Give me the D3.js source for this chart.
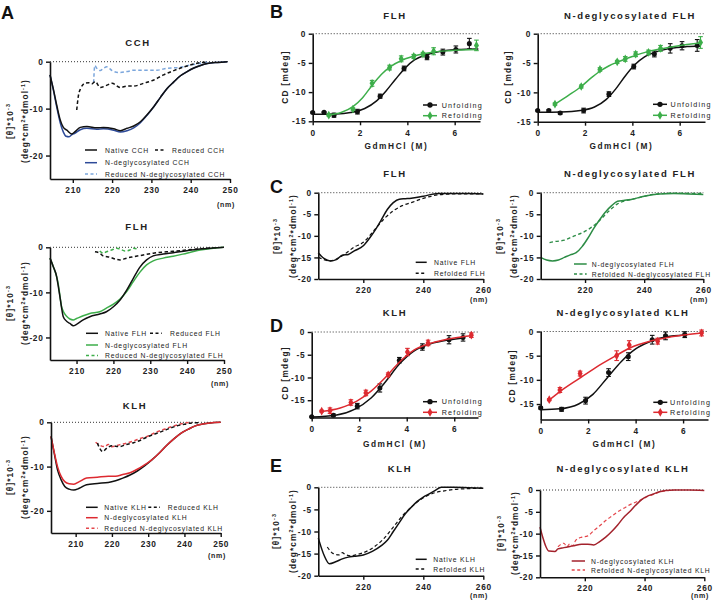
<!DOCTYPE html>
<html><head><meta charset="utf-8">
<script src="https://cdn.jsdelivr.net/npm/d3@7"></script>
<style>body{margin:0;background:#fff} svg{display:block} text{font-family:"Liberation Sans",Arial,sans-serif}</style>
</head><body><svg id="c" width="713" height="600"></svg>
<script>
// ---------------- DATA ----------------
// Panel A : CD spectra [wavelength nm, theta*10^-3]
const cchNative = [[204.2,-2.8],[205.1,-6],[206,-9.6],[206.8,-12.4],[207.6,-14],[208.5,-14.6],[209.7,-15.4],[210.6,-14.9],[211.9,-14],[213.6,-13.8],[216.1,-14.1],[217.8,-14],[220.4,-14.3],[222.1,-14.7],[223.8,-14.2],[225.5,-13.7],[227.2,-12.8],[228.9,-11.3],[230.6,-9.6],[232.3,-7.6],[234,-5.7],[235.7,-4.3],[237.4,-3.0],[239.1,-2.1],[240.8,-1.35],[242.5,-0.8],[244.2,-0.4],[246.8,-0.15],[249.3,0]];
const cchDeglyc = [[204.2,-2.8],[205.1,-6.2],[206,-10],[206.8,-13],[207.6,-15],[208.3,-15.9],[209,-16],[209.7,-15.6],[210.6,-15.2],[211.9,-14.5],[213.6,-14.2],[216.1,-14.4],[217.8,-14.3],[220.4,-14.6],[222.1,-15],[223.8,-14.7],[225.5,-14.1],[227.2,-13],[228.9,-11.4],[230.6,-9.6],[232.3,-7.6],[234,-5.7],[235.7,-4.3],[237.4,-3.0],[239.1,-2.1],[240.8,-1.35],[242.5,-0.8],[244.2,-0.4],[246.8,-0.15],[249.3,0]];
const cchReduced = [[211,-10.3],[211.4,-7.4],[212,-5.7],[213.1,-4.6],[214,-4.5],[214.8,-4.75],[215.7,-4.25],[217,-5.5],[218.7,-5.0],[220,-4.6],[222.1,-5.5],[223.8,-5.2],[225.5,-5.2],[228,-4.6],[230.6,-3.9],[233.1,-2.8],[235.7,-1.9],[238.3,-1.1],[240.8,-0.5],[242.5,-0.2],[244.2,-0.1]];
const cchReducedDeglyc = [[215.3,-4.5],[215.6,-0.8],[216.1,-1.4],[217,-1.9],[217.8,-1.4],[218.7,-1.1],[220,-1.9],[221.7,-2.3],[223.8,-2.1],[225.5,-1.8],[228,-1.8],[231.4,-1.8],[234,-1.4],[237.4,-1.2],[240,-0.7],[242.5,-0.35],[244.2,-0.1]];

const flhNative = [[202.8,-2.4],[203.7,-4.3],[204.6,-6.5],[205,-8.4],[205.5,-11],[205.9,-13.2],[206.4,-15.4],[207.3,-16.4],[208.2,-16.9],[209.1,-17.4],[210,-17.1],[211.8,-16.1],[213.6,-15.4],[216.3,-14.8],[218.1,-14.3],[220,-13.2],[221.8,-11.7],[223.6,-9.5],[225.4,-6.9],[227.2,-4.4],[229,-2.8],[230.8,-1.9],[233.5,-1.5],[236.2,-1.2],[239.9,-0.74],[243.5,-0.37],[247.1,-0.15],[250,0]];
const flhDeglyc = [[202.8,-2.4],[203.7,-4.3],[204.6,-6.5],[205,-8],[205.5,-10.8],[205.9,-13],[206.4,-14.2],[207.3,-15.3],[208.2,-15.9],[209.1,-16.1],[210,-15.8],[211.8,-15.2],[213.6,-14.7],[216.3,-14.3],[218.1,-13.5],[220,-12.6],[221.8,-11.5],[223.6,-9.8],[225.4,-7.6],[227.2,-5.5],[229,-3.9],[230.8,-3.0],[233.5,-2.4],[236.2,-2.0],[239.9,-1.3],[243.5,-0.6],[247.1,-0.2],[250,0]];
const flhReduced = [[215,-1.0],[216.3,-1.3],[217.2,-1.9],[219,-2.2],[220.9,-2.7],[221.8,-2.8],[223.6,-2.4],[225.4,-2.1],[228.1,-1.7],[230.8,-1.3],[234.4,-1.0],[238,-0.74],[241.7,-0.44],[245.3,-0.2],[248,-0.07]];
const flhReducedDeglyc = [[216.3,-0.8],[217.2,-1.3],[218.1,-1.0],[219.5,-0.6],[220.9,-0.2],[221.8,-0.4],[223.1,-0.8],[224.5,-0.6],[225.4,-0.2],[226.7,-0.4]];

const klhNative = [[203.2,-3.2],[204.1,-7],[205,-10.75],[206,-13],[207,-14.5],[208.2,-15.1],[209.5,-15.3],[211,-14.9],[213,-14.1],[216,-13.8],[219,-13.6],[221,-13.2],[223,-12.6],[225,-11.9],[227,-11],[229,-9.85],[231,-8.5],[233,-7],[235,-5.3],[237,-3.8],[239,-2.5],[241,-1.6],[243,-0.8],[245,-0.4],[247,-0.15],[250,0]];
const klhDeglyc = [[203.2,-3.2],[204.1,-6.8],[205,-10],[206,-12.2],[207,-13.4],[208.2,-13.9],[209.5,-14],[211,-13.4],[213,-12.6],[216,-12.4],[219,-12.2],[221,-12.2],[223,-11.8],[225,-11.4],[227,-10.6],[229,-9.6],[231,-8.5],[233,-7.0],[235,-5.3],[237,-3.8],[239,-2.5],[241,-1.6],[243,-0.8],[245,-0.4],[247,-0.15],[250,0]];
const klhReduced = [[216,-4.7],[216.8,-6.1],[217.5,-6.6],[218.5,-5.9],[220,-5.3],[222,-5.5],[224,-5.0],[226,-4.6],[228,-4.0],[230,-3.2],[232,-2.6],[234,-2.0],[236,-1.35],[238,-0.8],[240,-0.45],[242,-0.15],[244,-0.1]];
const klhReducedDeglyc = [[215.5,-4.5],[216.5,-5.1],[218,-5.5],[219,-5.0],[220,-5.5],[222,-5.1],[224,-4.7],[226,-4.2],[228,-3.6],[230,-3.1],[232,-2.3],[234,-1.7],[236,-1.1],[238,-0.6],[240,-0.2],[242,0]];

// Panels B / D : GdmHCl titrations (M, mdeg, error)
const bFlhUnfoldX = [0,0.48,0.9,1.89,2.85,3.86,4.83,5.5,6.05,6.62];
const bFlhUnfoldY = [-13.5,-13.45,-13.95,-13.35,-10.7,-5.95,-4.0,-3.15,-2.7,-1.7];
const bFlhUnfoldE = [0.1,0.1,0.35,0.4,0.35,0.4,0.45,0.5,0.6,0.9];
const bFlhRefoldX = [0.68,1.7,2.51,3.25,3.74,4.27,4.66,5.11,6.92];
const bFlhRefoldY = [-13.95,-12.9,-8.5,-5.8,-4.3,-3.9,-3.5,-3.0,-2.0];
const bFlhRefoldE = [0.15,0.2,0.5,0.4,0.5,0.35,0.3,0.6,0.9];
const bFlhUnfoldFit = [[0,-13.8],[1,-13.75],[1.6,-13.5],[2.2,-12.8],[2.7,-11.5],[3.1,-9.8],[3.5,-7.8],[3.9,-5.9],[4.3,-4.5],[4.8,-3.6],[5.4,-3.0],[6.1,-2.7],[7,-2.6]];
const bFlhRefoldFit = [[0.68,-13.9],[1.2,-13.5],[1.7,-12.5],[2.1,-11],[2.5,-8.9],[2.9,-7],[3.3,-5.6],[3.8,-4.5],[4.4,-3.7],[5,-3.2],[5.8,-2.9],[6.92,-2.7]];

const bDgUnfoldX = [0,0.47,0.95,1.94,3.01,4.06,4.93,5.6,6.1,6.74];
const bDgUnfoldY = [-13.1,-13.1,-13.5,-13.1,-10.3,-5.6,-3.45,-2.5,-2.05,-2.0];
const bDgUnfoldE = [0.1,0.15,0.2,0.4,0.4,0.4,0.5,0.8,0.7,1.0];
const bDgRefoldX = [0.73,1.84,2.63,3.36,3.7,4.14,4.68,5.19,6.88];
const bDgRefoldY = [-12.0,-9.0,-6.1,-4.8,-4.3,-3.5,-3.2,-2.5,-1.5];
const bDgRefoldE = [0.2,0.25,0.3,0.25,0.4,0.4,0.4,0.5,1.0];
const bDgUnfoldFit = [[0,-13.4],[1,-13.35],[1.8,-13.1],[2.4,-12.5],[2.9,-11.2],[3.3,-9.4],[3.7,-7.2],[4.1,-5.3],[4.5,-4],[5,-3.1],[5.6,-2.5],[6.3,-2.2],[6.9,-2.1]];
const bDgRefoldFit = [[0.73,-12.0],[1.3,-10.5],[1.84,-9.0],[2.3,-7.4],[2.63,-6.4],[3.0,-5.5],[3.4,-4.8],[4.0,-3.9],[4.6,-3.1],[5.2,-2.6],[5.9,-2.1],[6.88,-1.6]];

const dKlhUnfoldX = [0,0.91,1.92,2.87,3.69,4.66,5.78,6.37];
const dKlhUnfoldY = [-18.65,-18.3,-16.3,-12.3,-6.2,-3.3,-1.7,-1.2];
const dKlhUnfoldE = [0.1,0.3,0.6,0.9,0.6,0.7,0.9,0.8];
const dKlhRefoldX = [0.42,0.77,1.65,2.28,3.22,4.03,4.9,6.72];
const dKlhRefoldY = [-17.4,-17.3,-15.5,-13.4,-9.4,-4.4,-2.4,-0.7];
const dKlhRefoldE = [0.2,0.6,0.6,0.6,0.4,0.8,0.6,0.5];
const dKlhUnfoldFit = [[0,-18.7],[1,-18.3],[1.8,-17],[2.5,-14.5],[3.1,-11],[3.7,-7],[4.3,-4.2],[5,-2.6],[5.8,-1.7],[6.4,-1.3]];
const dKlhRefoldFit = [[0.4,-17.5],[1.2,-16.7],[1.9,-15.2],[2.5,-13],[3.1,-10],[3.7,-6.6],[4.3,-4.0],[5,-2.5],[6,-1.3],[6.72,-0.8]];

const dDgUnfoldX = [0,0.88,1.89,2.86,3.69,4.7,5.26,6.07];
const dDgUnfoldY = [-15.8,-16.1,-14.3,-8.5,-5.2,-1.7,-0.9,-0.65];
const dDgUnfoldE = [0.2,0.4,0.7,0.8,0.8,0.9,0.8,0.6];
const dDgRefoldX = [0.36,0.81,1.66,3.2,3.73,4.93,6.78];
const dDgRefoldY = [-14.1,-12.1,-8.7,-5.0,-2.8,-2.0,-0.3];
const dDgRefoldE = [0.2,0.5,0.5,1.0,0.9,0.6,0.6];
const dDgUnfoldFit = [[0,-16.2],[0.8,-16],[1.6,-15],[2.2,-13],[2.8,-9.6],[3.4,-6.2],[4,-3.6],[4.7,-1.9],[5.3,-1.1],[6.07,-0.7]];
const dDgRefoldFit = [[0.36,-14.2],[0.85,-12.3],[1.6,-9.8],[2.3,-7.5],[3.1,-5.2],[3.8,-3.3],[4.6,-2.0],[5.5,-1.1],[6.78,-0.3]];

// Panels C / E : native vs refolded spectra
const cFlhNative = [[205,-14],[207,-15.3],[209,-15.8],[211,-15.5],[213,-14.5],[215,-14.3],[217,-13.5],[220,-12.3],[222,-10.6],[224,-8.6],[226,-6.3],[228,-3.9],[230,-2.3],[232,-1.5],[234,-1.4],[236,-1.3],[240,-0.8],[245,-0.2],[250,-0.2],[255,-0.2],[260,-0.3]];
const cFlhRefolded = [[205,-15],[209,-15.8],[213,-14.6],[217,-12.6],[220,-11.5],[224,-8.4],[227,-6.0],[230,-4.2],[233,-3.0],[236,-2.3],[240,-1.3],[245,-0.5],[250,-0.3],[260,-0.3]];
const cDgNative = [[205,-15],[207,-15.6],[209,-15.8],[211,-15.6],[213,-15],[215,-14.4],[217,-13.9],[219,-12.5],[221,-10.5],[223,-8.2],[225,-6.2],[227,-4.4],[229,-3.0],[231,-2.0],[233,-1.8],[236,-1.5],[240,-0.8],[245,-0.3],[250,-0.2],[255,-0.3],[260,-0.4]];
const cDgRefolded = [[208,-11.6],[210,-11.3],[213,-11],[216,-10.1],[219,-9.3],[222,-8.1],[225,-6.4],[228,-4.3],[231,-2.6],[234,-1.8],[238,-1.2],[242,-0.5],[246,-0.2],[250,-0.1],[260,-0.2]];
const eKlhNative = [[205,-11.5],[207,-15.5],[208.7,-17.3],[211,-16.8],[213,-16.2],[215,-15.8],[217,-15.6],[220,-15.3],[223,-14.5],[226,-13.2],[228,-12.0],[230,-10.0],[232,-8.0],[234,-6.0],[236,-4.5],[238,-3.2],[240,-2.2],[242,-1.5],[244,-0.7],[246,0],[250,0],[255,-0.1],[260,-0.2]];
const eKlhRefolded = [[208,-13.5],[210,-15.0],[212,-15.3],[213,-14.8],[214,-15.2],[216,-15.5],[218,-15.2],[220,-14.8],[224,-13.3],[227,-11.5],[230,-9.0],[233,-6.5],[236,-4.5],[239,-2.8],[241,-2.0],[244,-1.2],[247,-0.8],[250,-0.5],[255,-0.3],[260,-0.2]];
const eDgNative = [[205,-8.5],[206,-11],[207,-13],[208,-14],[210,-14.1],[211,-13.5],[213,-13.2],[216,-12.8],[219,-12.4],[221,-12.4],[223,-12.6],[225,-11.8],[227,-10.8],[229,-9.5],[231,-8.0],[233,-6.3],[235,-5.0],[237,-3.5],[239,-2.2],[241,-1.4],[243,-0.9],[245,-0.4],[247,-0.1],[250,0],[255,0],[260,-0.1]];
const eDgRefolded = [[211,-13],[213,-12.2],[214,-13.0],[215,-12.3],[216,-12.8],[217,-11.5],[219,-10.8],[221,-10.5],[223,-9.3],[225,-8.2],[227,-7.0],[229,-6.0],[231,-5.0],[233,-4.2],[235,-3.4],[237,-2.8],[239,-2.2],[241,-1.5],[243,-1.0],[245,-0.5],[247,-0.2],[250,0]];

// tick labels
const aXTicks = [210,220,230,240,250];
const aYTicks = [0,-10,-20];
const ceXTicks = [220,240,260];
const ceYTicks = [0,-5,-10,-15,-20];
const bdXTicks = [0,2,4,6];
const bdYTicks = [0,-5,-10,-15];

// ---------------- DRAWING ----------------
const FONT = '"Liberation Sans", Arial, sans-serif';
const svg = d3.select('#c');
const C = {black:'#111', blue:'#2d4a98', lblue:'#7ba6dc', green:'#3dae4a', dgreen:'#2c8c45', red:'#dd2a30', dred:'#a3222c', lred:'#e4464b'};
const fmtInt = d => d===0 ? '0' : (d<0 ? '-' + Math.abs(d) : String(d));

function styleAxis(g){
  g.attr('font-family', FONT).attr('font-size', 8.3).attr('font-weight','bold');
  g.select('.domain').attr('stroke', C.black).attr('stroke-width', 1.6);
  g.selectAll('.tick line').attr('stroke', C.black).attr('stroke-width', 1.4);
  g.selectAll('.tick text').attr('fill','#222').attr('letter-spacing', 0.7);
}
function txt(x, y, s, o={}){
  return svg.append('text').attr('x',x).attr('y',y).text(s)
    .attr('font-size', o.size||7).attr('font-weight', o.bold?'bold':'normal')
    .attr('letter-spacing', o.ls==null?0.8:o.ls).attr('fill', o.fill||'#222')
    .attr('text-anchor', o.anchor||'start').style('font-family', FONT);
}
function richRot(x, y, parts, size){
  const t = svg.append('text').attr('transform',`translate(${x},${y}) rotate(-90)`)
    .attr('text-anchor','middle').attr('font-size', size).attr('font-weight','bold')
    .attr('letter-spacing', 1.1).attr('fill','#222').style('font-family', FONT);
  let prevSup = false;
  parts.forEach(p => {
    const ts = t.append('tspan').text(p[0]);
    if (p[1]) ts.attr('dy', -3.2).attr('font-size', size*0.65);
    else if (prevSup) ts.attr('dy', 3.2);
    prevSup = !!p[1];
  });
}
const thetaParts = [['[θ]*10'],['-3',true]];
const unitParts = [['(deg*cm'],['2',true],['*dmol'],['-1',true],[')']];

function zeroLine(x, y, x0, x1){
  svg.append('line').attr('x1',x(x0)).attr('x2',x(x1)).attr('y1',y(0)).attr('y2',y(0))
    .attr('stroke','#333').attr('stroke-width',1).attr('stroke-dasharray','1,2');
}

function spectra(cfg){
  const x = d3.scaleLinear().domain(cfg.xd).range(cfg.xr);
  const y = d3.scaleLinear().domain(cfg.yd).range(cfg.yr);
  zeroLine(x, y, cfg.xd[0], cfg.xd[1]);
  const line = d3.line().x(d=>x(d[0])).y(d=>y(d[1])).curve(d3.curveMonotoneX);
  cfg.series.forEach(s => {
    svg.append('path').datum(s.data).attr('d', line).attr('fill','none')
      .attr('stroke', s.color).attr('stroke-width', s.w||1.5)
      .attr('stroke-dasharray', s.dash ? '3.5,2.5' : null).attr('stroke-linejoin','round');
  });
  const gx = svg.append('g').attr('transform',`translate(0,${cfg.yr[0]})`)
    .call(d3.axisBottom(x).tickValues(cfg.xt).tickSize(4).tickPadding(cfg.xpad||4.5).tickSizeOuter(0).tickFormat(fmtInt));
  styleAxis(gx);
  const gy = svg.append('g').attr('transform',`translate(${cfg.xr[0]},0)`)
    .call(d3.axisLeft(y).tickValues(cfg.yt).tickSize(4).tickPadding(2.5).tickSizeOuter(0).tickFormat(fmtInt));
  styleAxis(gy);
  txt(cfg.nm[0], cfg.nm[1], '(nm)', {size:7, bold:true, anchor:'middle', ls:0.7});
  txt(cfg.title[0], cfg.title[1], cfg.title[2], {size:9.5, bold:true, anchor:'middle', ls:1.6});
  richRot(cfg.yl[0], cfg.yl[2], thetaParts, 8.3);
  richRot(cfg.yl[1], cfg.yl[2], unitParts, 8.3);
  cfg.legend.forEach(l => {
    svg.append('line').attr('x1',l.x1).attr('x2',l.x2).attr('y1',l.y).attr('y2',l.y)
      .attr('stroke',l.color).attr('stroke-width',1.5).attr('stroke-dasharray', l.dash?'3,2.5':null);
    txt(l.tx, l.y+2.5, l.label, {size:6.8, ls:0.8});
  });
}

function titration(cfg){
  const x = d3.scaleLinear().domain(cfg.xd).range(cfg.xr);
  const y = d3.scaleLinear().domain(cfg.yd).range(cfg.yr);
  zeroLine(x, y, 0, cfg.xd[1]);
  const line = d3.line().x(d=>x(d[0])).y(d=>y(d[1])).curve(d3.curveMonotoneX);
  const g = svg.append('g');
  cfg.series.forEach(s => {
    g.append('path').datum(s.fit).attr('d', line).attr('fill','none')
      .attr('stroke', s.color).attr('stroke-width', 1.5);
    const pts = s.xs.map((v,i)=>({x:v, y:s.ys[i], e:s.es[i]}));
    pts.forEach(p => {
      const cx = x(p.x), y1 = y(p.y - p.e), y2 = y(p.y + p.e);
      g.append('line').attr('x1',cx).attr('x2',cx).attr('y1',y1).attr('y2',y2).attr('stroke',s.color).attr('stroke-width',1.1);
      [y1,y2].forEach(yy => g.append('line').attr('x1',cx-2.3).attr('x2',cx+2.3).attr('y1',yy).attr('y2',yy).attr('stroke',s.color).attr('stroke-width',1.1));
    });
    const sym = d3.symbol().type(s.marker==='d'?d3.symbolDiamond:d3.symbolCircle).size(s.marker==='d'?22:20);
    g.selectAll(null).data(pts).enter().append('path').attr('d', sym)
      .attr('transform', p=>`translate(${x(p.x)},${y(p.y)})`).attr('fill', s.color);
  });
  const gx = svg.append('g').attr('transform',`translate(0,${cfg.yr[0]})`)
    .call(d3.axisBottom(x).tickValues(bdXTicks).tickSize(4).tickPadding(4.5).tickSizeOuter(0).tickFormat(fmtInt));
  styleAxis(gx);
  const gy = svg.append('g').attr('transform',`translate(${cfg.xr[0]},0)`)
    .call(d3.axisLeft(y).tickValues(bdYTicks).tickSize(4).tickPadding(2.5).tickSizeOuter(0).tickFormat(fmtInt));
  styleAxis(gy);
  txt((cfg.xr[0]+cfg.xr[1])/2, cfg.xl, 'GdmHCl (M)', {size:8.3, bold:true, anchor:'middle', ls:1.6});
  txt(cfg.title[0], cfg.title[1], cfg.title[2], {size:9.5, bold:true, anchor:'middle', ls:1.6});
  svg.append('text').attr('transform',`translate(${cfg.yl[0]},${cfg.yl[1]}) rotate(-90)`)
    .attr('text-anchor','middle').attr('font-size',8.3).attr('font-weight','bold').attr('letter-spacing',1.3)
    .attr('fill','#222').style('font-family',FONT).text('CD [mdeg]');
  cfg.series.forEach((s,i) => {
    const ly = cfg.leg[1] + i*cfg.leg[3];
    svg.append('line').attr('x1',cfg.leg[0]).attr('x2',cfg.leg[0]+14).attr('y1',ly).attr('y2',ly).attr('stroke',s.color).attr('stroke-width',1.5);
    svg.append('path').attr('d', d3.symbol().type(s.marker==='d'?d3.symbolDiamond:d3.symbolCircle).size(22))
      .attr('transform',`translate(${cfg.leg[0]+7},${ly})`).attr('fill',s.color);
    txt(cfg.leg[2], ly+2.6, s.label, {size:7.2, ls:1.2});
  });
}

// ---- Panel A ----
spectra({xd:[204.2,250], xr:[50,230], yd:[-25,0], yr:[179,61.7], xt:aXTicks, yt:aYTicks,
  nm:[226,207], title:[138,45.5,'CCH'], yl:[13,28,121],
  series:[{data:cchReducedDeglyc,color:C.lblue,dash:true},{data:cchReduced,color:C.black,dash:true},
          {data:cchDeglyc,color:C.blue},{data:cchNative,color:C.black}],
  legend:[{x1:85,x2:97,y:150,tx:105,label:'Native CCH',color:C.black},
          {x1:155,x2:166,y:150,tx:172,label:'Reduced CCH',color:C.black,dash:true},
          {x1:85,x2:97,y:162.7,tx:105,label:'N-deglycosylated CCH',color:C.blue},
          {x1:85,x2:97,y:174,tx:105,label:'Reduced N-deglycosylated CCH',color:C.lblue,dash:true}]});
spectra({xd:[202.8,250], xr:[50,224], yd:[-25,0], yr:[360,247.3], xt:aXTicks, yt:aYTicks,
  nm:[220,386], title:[137,230,'FLH'], yl:[13,28,303],
  series:[{data:flhReducedDeglyc,color:C.green,dash:true},{data:flhReduced,color:C.black,dash:true},
          {data:flhDeglyc,color:C.green},{data:flhNative,color:C.black}],
  legend:[{x1:86,x2:98,y:333.3,tx:105,label:'Native FLH',color:C.black},
          {x1:150,x2:161.7,y:333.3,tx:170,label:'Reduced FLH',color:C.black,dash:true},
          {x1:86,x2:98,y:345,tx:105,label:'N-deglycosylated FLH',color:C.green},
          {x1:86,x2:98,y:355.5,tx:105,label:'Reduced N-deglycosylated FLH',color:C.green,dash:true}]});
spectra({xd:[203.2,250], xr:[51,220.7], yd:[-25,0], yr:[533,422.3], xt:aXTicks, yt:aYTicks,
  nm:[217,557.7], title:[135,408.5,'KLH'], yl:[13,28,477],
  series:[{data:klhReducedDeglyc,color:C.lred,dash:true},{data:klhReduced,color:C.black,dash:true},
          {data:klhNative,color:C.black},{data:klhDeglyc,color:C.red}],
  legend:[{x1:86,x2:97.7,y:507.3,tx:104.3,label:'Native KLH',color:C.black},
          {x1:148.3,x2:160,y:507.3,tx:167.7,label:'Reduced KLH',color:C.black,dash:true},
          {x1:86,x2:97.7,y:517.7,tx:104.3,label:'N-deglycosylated KLH',color:C.red},
          {x1:86,x2:97.7,y:528.3,tx:104.3,label:'Reduced N-deglycosylated KLH',color:C.lred,dash:true}]});

// ---- Panel B ----
titration({xd:[0,7.07], xr:[312.7,480], yd:[-15,0], yr:[121.3,33.7], xl:149, title:[395,18.5,'FLH'], yl:[288,77],
  leg:[423,105,441.7,10.7],
  series:[{xs:bFlhUnfoldX,ys:bFlhUnfoldY,es:bFlhUnfoldE,fit:bFlhUnfoldFit,color:C.black,marker:'o',label:'Unfolding'},
          {xs:bFlhRefoldX,ys:bFlhRefoldY,es:bFlhRefoldE,fit:bFlhRefoldFit,color:C.green,marker:'d',label:'Refolding'}]});
titration({xd:[0,7.07], xr:[537.7,705], yd:[-15,0], yr:[121.7,33.7], xl:149, title:[630,18.5,'N-deglycosylated FLH'], yl:[511,77],
  leg:[653,104.3,670.5,11],
  series:[{xs:bDgUnfoldX,ys:bDgUnfoldY,es:bDgUnfoldE,fit:bDgUnfoldFit,color:C.black,marker:'o',label:'Unfolding'},
          {xs:bDgRefoldX,ys:bDgRefoldY,es:bDgRefoldE,fit:bDgRefoldFit,color:C.green,marker:'d',label:'Refolding'}]});

// ---- Panel C ----
spectra({xd:[205,260], xr:[318.3,483.3], yd:[-20,0], yr:[279,192.7], xt:ceXTicks, yt:ceYTicks, xpad:4,
  nm:[479,302], title:[395,176.8,'FLH'], yl:[280,296,236],
  series:[{data:cFlhRefolded,color:C.black,dash:true,w:1.2},{data:cFlhNative,color:C.black}],
  legend:[{x1:415.7,x2:426.7,y:262.3,tx:434,label:'Native FLH',color:C.black},
          {x1:415.7,x2:426.7,y:273.3,tx:434,label:'Refolded FLH',color:C.black,dash:true}]});
spectra({xd:[205,260], xr:[540.7,703.3], yd:[-20,0], yr:[279,192.7], xt:ceXTicks, yt:ceYTicks, xpad:4,
  nm:[699,302], title:[630,176.8,'N-deglycosylated FLH'], yl:[503,517,236],
  series:[{data:cDgRefolded,color:C.dgreen,dash:true,w:1.3},{data:cDgNative,color:C.dgreen}],
  legend:[{x1:574,x2:586.7,y:264,tx:591.7,label:'N-deglycosylated FLH',color:C.dgreen},
          {x1:574,x2:586.7,y:274,tx:591.7,label:'Refolded N-deglycosylated FLH',color:C.dgreen,dash:true}]});

// ---- Panel D ----
titration({xd:[0,7], xr:[311.7,478], yd:[-18.8,0], yr:[417.5,332], xl:447, title:[395,315.8,'KLH'], yl:[288,373],
  leg:[423,401.7,441.7,10.6],
  series:[{xs:dKlhUnfoldX,ys:dKlhUnfoldY,es:dKlhUnfoldE,fit:dKlhUnfoldFit,color:C.black,marker:'o',label:'Unfolding'},
          {xs:dKlhRefoldX,ys:dKlhRefoldY,es:dKlhRefoldE,fit:dKlhRefoldFit,color:C.red,marker:'d',label:'Refolding'}]});
titration({xd:[0,7.05], xr:[540.7,708], yd:[-18.2,0], yr:[419.5,331.5], xl:447, title:[623,315.8,'N-deglycosylated KLH'], yl:[515,376],
  leg:[653.3,402.3,670,10],
  series:[{xs:dDgUnfoldX,ys:dDgUnfoldY,es:dDgUnfoldE,fit:dDgUnfoldFit,color:C.black,marker:'o',label:'Unfolding'},
          {xs:dDgRefoldX,ys:dDgRefoldY,es:dDgRefoldE,fit:dDgRefoldFit,color:C.red,marker:'d',label:'Refolding'}]});

// ---- Panel E ----
spectra({xd:[205,260], xr:[318.3,483.3], yd:[-20,0], yr:[575.7,487.3], xt:ceXTicks, yt:ceYTicks, xpad:4,
  nm:[479,598], title:[400,471.8,'KLH'], yl:[279,296,531],
  series:[{data:eKlhRefolded,color:C.black,dash:true,w:1.2},{data:eKlhNative,color:C.black}],
  legend:[{x1:415.7,x2:426.7,y:559.3,tx:433.3,label:'Native KLH',color:C.black},
          {x1:415.7,x2:426.7,y:569,tx:433.3,label:'Refolded KLH',color:C.black,dash:true}]});
spectra({xd:[205,260], xr:[540,704.3], yd:[-20,0], yr:[577.3,490], xt:ceXTicks, yt:ceYTicks, xpad:4,
  nm:[700,598], title:[623,471.8,'N-deglycosylated KLH'], yl:[504,518,533],
  series:[{data:eDgRefolded,color:C.lred,dash:true,w:1.2},{data:eDgNative,color:C.dred}],
  legend:[{x1:571.7,x2:585,y:561,tx:591,label:'N-deglycosylated KLH',color:C.dred},
          {x1:571.7,x2:585,y:570,tx:591,label:'Refolded N-deglycosylated KLH',color:C.lred,dash:true}]});

// panel letters
[['A',1,19],['B',270,18],['C',270,193],['D',270,332],['E',270,472]].forEach(p =>
  txt(p[1], p[2], p[0], {size:18, bold:true, ls:0, fill:'#111'}));
</script></body></html>
